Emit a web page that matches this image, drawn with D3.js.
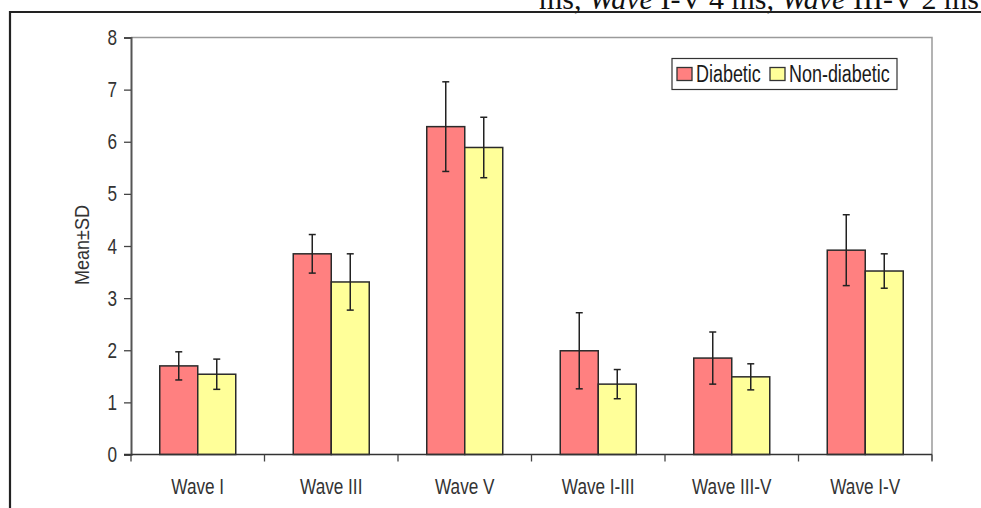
<!DOCTYPE html>
<html><head><meta charset="utf-8">
<script src="https://cdn.jsdelivr.net/npm/d3@7"></script>
<style>
html,body{margin:0;padding:0;background:#fff;overflow:hidden}
svg{display:block}
</style></head>
<body>
<svg id="c" width="981" height="508"></svg>
<script>
const categories = ["Wave I","Wave III","Wave V","Wave I-III","Wave III-V","Wave I-V"];
const seriesNames = ["Diabetic","Non-diabetic"];
const diabeticMean = [1.70, 3.85, 6.29, 1.99, 1.85, 3.92];
const diabeticSD   = [0.27, 0.37, 0.86, 0.73, 0.50, 0.68];
const nonDiabeticMean = [1.54, 3.31, 5.89, 1.35, 1.49, 3.52];
const nonDiabeticSD   = [0.29, 0.54, 0.58, 0.28, 0.25, 0.33];
const yTicks = [0,1,2,3,4,5,6,7,8];
const colors = ["#FF8080","#FFFF99"];

(function(){
const FONT = "'Liberation Sans',Arial,sans-serif";
const SQ = 0.78;
const svg = d3.select("#c");
function squeeze(sel, f){
  sel.each(function(){
    const L = this.getComputedTextLength();
    d3.select(this).attr("textLength", L*f).attr("lengthAdjust","spacingAndGlyphs");
  });
}

// caption fragment at top (cropped in the source image)
const cap = svg.append("text").attr("x",979).attr("y",8.5).attr("text-anchor","end")
  .attr("font-family","'Liberation Serif','Times New Roman',serif").attr("font-size",30).attr("fill","#111");
cap.append("tspan").text("ms, ");
cap.append("tspan").attr("font-style","italic").text("Wave");
cap.append("tspan").text(" I-V 4 ms, ");
cap.append("tspan").attr("font-style","italic").text("Wave");
cap.append("tspan").text(" III-V 2 ms");

// outer frame
svg.append("path").attr("d","M10,508 V12 H981").attr("fill","none").attr("stroke","#222").attr("stroke-width",2.2);

const pL=131, pR=932, pT=37.5, pB=454.5;
const y = d3.scaleLinear().domain([0,8]).range([pB, pT]);
const x0 = d3.scaleBand().domain(categories).range([pL,pR]).paddingInner(0).paddingOuter(0);
const bw = x0.bandwidth();
const barW = 38;
const p = (bw/barW - 2)/2;
const x1 = d3.scaleBand().domain(seriesNames).range([0,bw]).paddingInner(0).paddingOuter(p);

// plot border (top & right)
svg.append("path").attr("d",`M${pL},${pT} H${pR} V${pB+6}`).attr("fill","none").attr("stroke","#9a9a9a").attr("stroke-width",1.5);

const data = categories.map((c,i)=>({cat:c, vals:[
  {s:seriesNames[0], m:diabeticMean[i], sd:diabeticSD[i], col:colors[0]},
  {s:seriesNames[1], m:nonDiabeticMean[i], sd:nonDiabeticSD[i], col:colors[1]}]}));

const g = svg.append("g").selectAll("g").data(data).join("g")
  .attr("transform",d=>`translate(${x0(d.cat)},0)`);
g.selectAll("rect").data(d=>d.vals).join("rect")
  .attr("x",d=>x1(d.s)).attr("width",x1.bandwidth())
  .attr("y",d=>y(d.m)).attr("height",d=>y(0)-y(d.m))
  .attr("fill",d=>d.col).attr("stroke","#2a2a2a").attr("stroke-width",1.5);
const eb = g.selectAll("g.eb").data(d=>d.vals).join("g").attr("class","eb")
  .attr("transform",d=>`translate(${x1(d.s)+x1.bandwidth()/2},0)`);
eb.append("line").attr("y1",d=>y(d.m+d.sd)).attr("y2",d=>y(d.m-d.sd)).attr("stroke","#222").attr("stroke-width",1.5);
eb.append("line").attr("x1",-3.5).attr("x2",3.5).attr("y1",d=>y(d.m+d.sd)).attr("y2",d=>y(d.m+d.sd)).attr("stroke","#222").attr("stroke-width",1.5);
eb.append("line").attr("x1",-3.5).attr("x2",3.5).attr("y1",d=>y(d.m-d.sd)).attr("y2",d=>y(d.m-d.sd)).attr("stroke","#222").attr("stroke-width",1.5);

// y axis
const ya = svg.append("g").attr("transform",`translate(${pL},0)`)
  .call(d3.axisLeft(y).tickValues(yTicks).tickSize(7).tickPadding(7).tickFormat(d3.format("d")));
ya.select(".domain").attr("stroke","#555").attr("stroke-width",2);
ya.selectAll(".tick line").attr("stroke","#444").attr("stroke-width",1.3);
ya.selectAll("text").attr("font-family",FONT).attr("font-size",22).attr("fill","#333");
squeeze(ya.selectAll("text"), SQ);

// x axis
const xa = svg.append("g").attr("transform",`translate(0,${pB})`)
  .call(d3.axisBottom(x0).tickSize(0).tickPadding(24));
xa.select(".domain").attr("d",`M${pL-7},0H${pR}`).attr("stroke","#333").attr("stroke-width",1.5);
xa.selectAll("text").attr("font-family",FONT).attr("font-size",22).attr("fill","#333");
squeeze(xa.selectAll("text"), SQ);
const bounds = categories.map(c=>x0(c)).concat([pR]);
xa.selectAll("line.b").data(bounds).join("line").attr("class","b")
  .attr("x1",d=>d).attr("x2",d=>d).attr("y1",0).attr("y2",7).attr("stroke","#444").attr("stroke-width",1.3);

// y title
svg.append("text").attr("transform","translate(89,245) rotate(-90)").attr("text-anchor","middle")
  .attr("font-family",FONT).attr("font-size",20).attr("fill","#333")
  .attr("textLength",80).attr("lengthAdjust","spacingAndGlyphs").text("Mean±SD");

// legend
const lg = svg.append("g");
lg.append("rect").attr("x",672).attr("y",58.5).attr("width",225).attr("height",31)
  .attr("fill","#fff").attr("stroke","#333").attr("stroke-width",1.2);
const items = [{n:seriesNames[0],c:colors[0],x:677,tx:696},{n:seriesNames[1],c:colors[1],x:770,tx:789}];
items.forEach(it=>{
  lg.append("rect").attr("x",it.x).attr("y",67.5).attr("width",15).attr("height",13).attr("fill",it.c).attr("stroke","#333").attr("stroke-width",1.3);
  const t = lg.append("text").attr("x",it.tx).attr("y",82).attr("font-family",FONT).attr("font-size",23).attr("fill","#1a1a1a").text(it.n);
  squeeze(t, SQ);
});
})();
</script>
</body></html>
